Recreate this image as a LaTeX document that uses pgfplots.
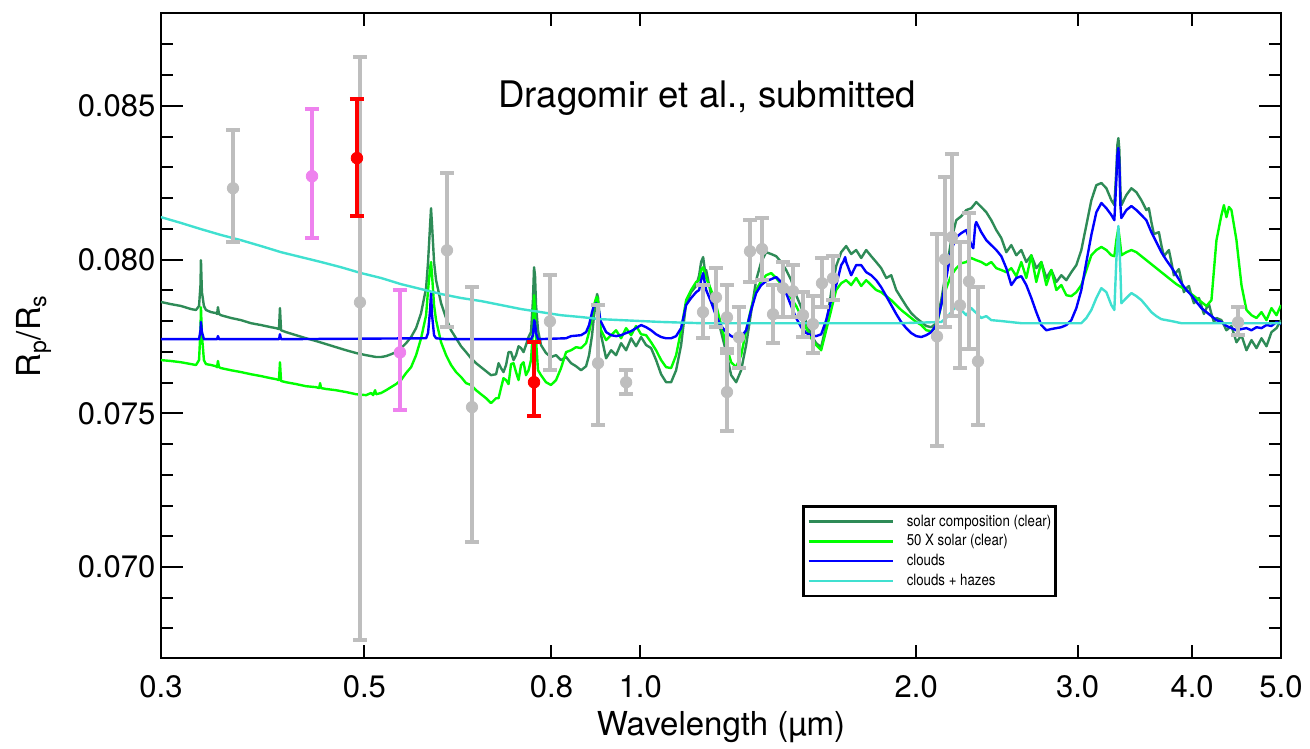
\documentclass[border=0pt]{standalone}
\usepackage{fontspec}
\setmainfont{TeX Gyre Heros}
\newfontfamily\legendfont[FakeStretch=0.85]{TeX Gyre Heros}
\usepackage{pgfplots}
\pgfplotsset{compat=1.18}

\definecolor{solargreen}{HTML}{2E8B57}
\definecolor{richgreen}{HTML}{00FF00}
\definecolor{cloudblue}{HTML}{0000FF}
\definecolor{hazecyan}{HTML}{40E0D0}
\definecolor{datagray}{HTML}{BEBEBE}
\definecolor{violetpt}{HTML}{EE82EE}
\definecolor{redpt}{HTML}{FF0000}

\begin{document}
\begin{tikzpicture}
\begin{axis}[
  scale only axis, width=560pt, height=322.5pt,
  xmode=log, xmin=0.3, xmax=5.0, ymin=0.06704, ymax=0.08802,
  xtick={0.3,0.5,0.8,1,2,3,4,5},
  xticklabels={0.3,0.5,0.8,1.0,2.0,3.0,4.0,5.0},
  minor xtick={},
  ytick={0.070,0.075,0.080,0.085},
  yticklabels={0.070,0.075,0.080,0.085},
  minor ytick={0.068,0.069,0.071,0.072,0.073,0.074,0.076,0.077,0.078,0.079,0.081,0.082,0.083,0.084,0.086,0.087},
  scaled y ticks=false,
  tick align=inside,
  major tick length=11pt, minor tick length=6pt,
  xtick style={/pgfplots/major tick length=6.5pt},
  tick style={line width=1pt, black},
  axis line style={line width=1pt},
  ticklabel style={font=\fontsize{15.5}{17}\selectfont},
  xticklabel style={yshift=-5.3pt},
  yticklabel style={xshift=0.7pt},
  every axis x label/.style={at={(axis description cs:0.5,-0.1194)}, anchor=base, font=\fontsize{16.5}{18}\selectfont},
  every axis y label/.style={at={(axis description cs:-0.1134,0.499)}, anchor=center, rotate=90, font=\fontsize{16.5}{18}\selectfont},
  xlabel={Wavelength (µm)},
  ylabel={R\textsubscript{p}/R\textsubscript{s}},
  legend style={at={(0.5723,0.2372)}, anchor=north west, draw=black, line width=1.4pt,
    inner xsep=2pt, inner ysep=3.5pt, row sep=1.8pt,
    font=\legendfont\fontsize{7.8}{10}\selectfont,
    nodes={inner sep=0pt, text height=6.3pt, text depth=1.8pt},
    /tikz/every odd column/.style={column sep=6.5pt}},
  legend cell align=left,
  legend image code/.code={\path (0pt,0pt) -- (42pt,0pt); \draw[#1, line width=1.2pt] (8pt,0pt) -- (42pt,0pt);},
]

% solar composition, clear atmosphere
\addplot[draw=solargreen, line width=1.2pt, line join=round] table {
0.3000 0.07862
0.3076 0.07855
0.3155 0.07849
0.3235 0.07839
0.3276 0.07836
0.3301 0.07849
0.3313 0.07917
0.3317 0.07998
0.3325 0.07894
0.3342 0.07849
0.3359 0.07836
0.3402 0.07829
0.3445 0.07826
0.3454 0.07823
0.3462 0.07845
0.3471 0.07823
0.3488 0.07819
0.3577 0.07810
0.3668 0.07803
0.3761 0.07793
0.3857 0.07787
0.3955 0.07780
0.4005 0.07777
0.4035 0.07774
0.4045 0.07842
0.4056 0.07770
0.4107 0.07764
0.4212 0.07754
0.4319 0.07744
0.4429 0.07735
0.4542 0.07725
0.4657 0.07715
0.4776 0.07705
0.4897 0.07696
0.5022 0.07689
0.5150 0.07683
0.5215 0.07683
0.5281 0.07686
0.5347 0.07692
0.5415 0.07699
0.5483 0.07712
0.5553 0.07728
0.5623 0.07748
0.5694 0.07777
0.5766 0.07826
0.5839 0.07907
0.5868 0.07992
0.5898 0.08112
0.5912 0.08167
0.5927 0.08112
0.5957 0.07992
0.5987 0.07933
0.6063 0.07858
0.6140 0.07810
0.6217 0.07770
0.6296 0.07744
0.6375 0.07718
0.6456 0.07699
0.6537 0.07679
0.6620 0.07663
0.6703 0.07650
0.6788 0.07637
0.6874 0.07624
0.6961 0.07627
0.7005 0.07663
0.7049 0.07647
0.7093 0.07634
0.7138 0.07657
0.7183 0.07699
0.7228 0.07699
0.7274 0.07673
0.7320 0.07689
0.7366 0.07718
0.7412 0.07712
0.7459 0.07699
0.7506 0.07722
0.7553 0.07748
0.7600 0.07764
0.7638 0.07868
0.7658 0.07975
0.7677 0.07949
0.7697 0.07852
0.7736 0.07770
0.7794 0.07722
0.7892 0.07696
0.7992 0.07683
0.8093 0.07689
0.8195 0.07673
0.8299 0.07683
0.8404 0.07663
0.8510 0.07653
0.8618 0.07640
0.8727 0.07653
0.8793 0.07689
0.8859 0.07754
0.8904 0.07819
0.8949 0.07868
0.8972 0.07888
0.8994 0.07875
0.9039 0.07787
0.9062 0.07754
0.9177 0.07679
0.9293 0.07705
0.9410 0.07689
0.9529 0.07728
0.9650 0.07705
0.9772 0.07744
0.9895 0.07718
1.0020 0.07748
1.0147 0.07722
1.0275 0.07712
1.0405 0.07673
1.0537 0.07627
1.0670 0.07601
1.0805 0.07601
1.0942 0.07640
1.1080 0.07722
1.1220 0.07858
1.1362 0.07894
1.1506 0.07914
1.1593 0.07949
1.1651 0.07992
1.1710 0.08008
1.1769 0.07959
1.1799 0.07966
1.1948 0.07884
1.2099 0.07829
1.2252 0.07764
1.2407 0.07699
1.2564 0.07624
1.2723 0.07601
1.2883 0.07640
1.3046 0.07722
1.3211 0.07829
1.3378 0.07933
1.3548 0.07992
1.3719 0.08024
1.3892 0.08018
1.4068 0.08011
1.4246 0.07992
1.4426 0.07966
1.4609 0.07933
1.4793 0.07884
1.4980 0.07845
1.5170 0.07797
1.5362 0.07754
1.5556 0.07728
1.5753 0.07715
1.5952 0.07787
1.6154 0.07894
1.6358 0.07979
1.6565 0.08024
1.6774 0.08044
1.6986 0.08018
1.7201 0.08031
1.7419 0.08005
1.7639 0.08031
1.7862 0.08011
1.8088 0.07992
1.8317 0.07972
1.8549 0.07940
1.8783 0.07949
1.9021 0.07901
1.9261 0.07875
1.9505 0.07849
1.9751 0.07826
2.0001 0.07810
2.0254 0.07797
2.0510 0.07784
2.0770 0.07780
2.1032 0.07793
2.1298 0.07868
2.1568 0.07966
2.1840 0.08063
2.2116 0.08128
2.2396 0.08141
2.2679 0.08161
2.2966 0.08167
2.3256 0.08187
2.3551 0.08171
2.3849 0.08154
2.4150 0.08128
2.4456 0.08096
2.4765 0.08070
2.5078 0.08024
2.5395 0.08047
2.5717 0.08014
2.6042 0.08031
2.6371 0.07992
2.6705 0.08014
2.7042 0.07972
2.7385 0.07992
2.7731 0.07940
2.8082 0.07966
2.8437 0.07927
2.8797 0.07949
2.9161 0.07933
2.9530 0.07959
2.9903 0.07982
3.0281 0.08031
3.0664 0.08112
3.1052 0.08193
3.1445 0.08242
3.1843 0.08249
3.2245 0.08232
3.2653 0.08193
3.2900 0.08177
3.3066 0.08291
3.3149 0.08372
3.3232 0.08395
3.3316 0.08356
3.3400 0.08226
3.3484 0.08177
3.3908 0.08210
3.4337 0.08232
3.4771 0.08219
3.5211 0.08193
3.5656 0.08161
3.5881 0.08167
3.6107 0.08122
3.6335 0.08083
3.6564 0.08086
3.6795 0.08089
3.7026 0.08047
3.7260 0.08011
3.7494 0.08021
3.7731 0.08031
3.7969 0.07992
3.8209 0.07949
3.8449 0.07959
3.8692 0.07969
3.8935 0.07933
3.9181 0.07894
3.9428 0.07907
3.9677 0.07914
3.9926 0.07884
4.0178 0.07858
4.0431 0.07868
4.0686 0.07875
4.0942 0.07849
4.1200 0.07823
4.1460 0.07842
4.1722 0.07855
4.1985 0.07823
4.2250 0.07797
4.2516 0.07810
4.3053 0.07803
4.3598 0.07770
4.4149 0.07784
4.4708 0.07731
4.5273 0.07754
4.5846 0.07705
4.6426 0.07738
4.7013 0.07712
4.7607 0.07744
4.8209 0.07718
4.8819 0.07764
4.9437 0.07777
5.0000 0.07803
};
\addlegendentry{solar composition (clear)}

% 50 x solar metallicity, clear atmosphere
\addplot[draw=richgreen, line width=1.2pt, line join=round] table {
0.3000 0.07673
0.3076 0.07670
0.3155 0.07666
0.3235 0.07660
0.3276 0.07657
0.3301 0.07673
0.3313 0.07770
0.3317 0.07845
0.3325 0.07754
0.3342 0.07673
0.3359 0.07660
0.3402 0.07657
0.3445 0.07653
0.3454 0.07650
0.3462 0.07670
0.3471 0.07650
0.3488 0.07647
0.3577 0.07640
0.3668 0.07634
0.3761 0.07627
0.3857 0.07621
0.3955 0.07614
0.4005 0.07611
0.4035 0.07608
0.4045 0.07666
0.4056 0.07605
0.4107 0.07601
0.4212 0.07595
0.4319 0.07588
0.4429 0.07585
0.4463 0.07582
0.4474 0.07598
0.4485 0.07582
0.4542 0.07579
0.4657 0.07575
0.4776 0.07569
0.4897 0.07562
0.5022 0.07559
0.5085 0.07566
0.5111 0.07559
0.5137 0.07575
0.5150 0.07562
0.5215 0.07566
0.5281 0.07575
0.5347 0.07585
0.5415 0.07595
0.5483 0.07608
0.5553 0.07631
0.5623 0.07650
0.5694 0.07689
0.5766 0.07744
0.5839 0.07819
0.5868 0.07901
0.5898 0.07972
0.5912 0.07992
0.5927 0.07949
0.5957 0.07852
0.5987 0.07803
0.6063 0.07731
0.6140 0.07689
0.6217 0.07657
0.6296 0.07634
0.6375 0.07618
0.6456 0.07598
0.6537 0.07592
0.6620 0.07575
0.6703 0.07562
0.6788 0.07549
0.6874 0.07533
0.6961 0.07549
0.7005 0.07549
0.7049 0.07582
0.7093 0.07614
0.7138 0.07608
0.7183 0.07595
0.7228 0.07660
0.7274 0.07663
0.7320 0.07634
0.7366 0.07608
0.7412 0.07657
0.7459 0.07666
0.7506 0.07624
0.7553 0.07640
0.7600 0.07673
0.7638 0.07770
0.7658 0.07884
0.7677 0.07836
0.7697 0.07738
0.7736 0.07640
0.7794 0.07624
0.7892 0.07601
0.7992 0.07592
0.8093 0.07608
0.8195 0.07647
0.8299 0.07699
0.8404 0.07705
0.8510 0.07715
0.8618 0.07712
0.8727 0.07728
0.8793 0.07764
0.8859 0.07810
0.8904 0.07852
0.8949 0.07875
0.8972 0.07878
0.8994 0.07862
0.9039 0.07787
0.9062 0.07770
0.9177 0.07738
0.9293 0.07754
0.9410 0.07770
0.9529 0.07744
0.9650 0.07777
0.9772 0.07754
0.9895 0.07784
1.0020 0.07757
1.0147 0.07754
1.0275 0.07731
1.0405 0.07705
1.0537 0.07673
1.0670 0.07650
1.0805 0.07647
1.0942 0.07689
1.1080 0.07770
1.1220 0.07868
1.1362 0.07901
1.1506 0.07927
1.1593 0.07933
1.1651 0.07966
1.1710 0.07975
1.1769 0.07949
1.1799 0.07940
1.1948 0.07901
1.2099 0.07852
1.2252 0.07787
1.2407 0.07722
1.2564 0.07666
1.2723 0.07650
1.2883 0.07689
1.3046 0.07770
1.3211 0.07842
1.3378 0.07901
1.3548 0.07930
1.3719 0.07949
1.3892 0.07956
1.4068 0.07940
1.4246 0.07920
1.4426 0.07901
1.4609 0.07875
1.4793 0.07849
1.4980 0.07816
1.5170 0.07777
1.5362 0.07744
1.5556 0.07722
1.5753 0.07705
1.5952 0.07770
1.6154 0.07836
1.6358 0.07901
1.6565 0.07923
1.6774 0.07933
1.6986 0.07917
1.7201 0.07940
1.7419 0.07914
1.7639 0.07933
1.7862 0.07917
1.8088 0.07901
1.8317 0.07894
1.8549 0.07881
1.8783 0.07868
1.9021 0.07852
1.9261 0.07836
1.9505 0.07823
1.9751 0.07810
2.0001 0.07797
2.0254 0.07787
2.0510 0.07770
2.0770 0.07767
2.1032 0.07780
2.1298 0.07852
2.1568 0.07907
2.1840 0.07949
2.2116 0.07972
2.2396 0.07988
2.2679 0.07992
2.2966 0.08005
2.3256 0.07998
2.3551 0.07992
2.3849 0.07982
2.4150 0.07992
2.4456 0.07972
2.4765 0.07966
2.5078 0.07959
2.5395 0.07972
2.5717 0.07946
2.6042 0.07992
2.6371 0.07940
2.6705 0.08014
2.7042 0.07927
2.7385 0.07992
2.7731 0.07917
2.8082 0.07966
2.8437 0.07901
2.8797 0.07917
2.9161 0.07884
2.9530 0.07881
2.9903 0.07894
3.0281 0.07917
3.0664 0.07966
3.1052 0.08014
3.1445 0.08031
3.1843 0.08041
3.2245 0.08031
3.2653 0.08014
3.2900 0.08011
3.3066 0.08063
3.3232 0.08102
3.3400 0.08047
3.3484 0.08014
3.3908 0.08024
3.4337 0.08031
3.4771 0.08024
3.5211 0.08011
3.5656 0.07998
3.6107 0.07985
3.6564 0.07972
3.7026 0.07959
3.7494 0.07946
3.7969 0.07933
3.8449 0.07920
3.8935 0.07910
3.9428 0.07901
3.9926 0.07888
4.0431 0.07875
4.0942 0.07862
4.1460 0.07849
4.1985 0.07868
4.2516 0.08063
4.3053 0.08145
4.3320 0.08177
4.3598 0.08138
4.3870 0.08171
4.4149 0.08161
4.4708 0.08063
4.5273 0.07917
4.5846 0.07836
4.6426 0.07819
4.7013 0.07810
4.7607 0.07829
4.8209 0.07803
4.8819 0.07842
4.9437 0.07819
5.0000 0.07852
};
\addlegendentry{50 X solar (clear)}

% cloudy atmosphere
\addplot[draw=cloudblue, line width=1.2pt, line join=round] table {
0.3000 0.07741
0.3301 0.07741
0.3313 0.07770
0.3317 0.07797
0.3325 0.07764
0.3342 0.07741
0.3454 0.07741
0.3462 0.07751
0.3471 0.07741
0.4035 0.07741
0.4045 0.07757
0.4056 0.07741
0.5839 0.07744
0.5868 0.07761
0.5898 0.07836
0.5912 0.07891
0.5927 0.07819
0.5957 0.07754
0.5987 0.07744
0.6140 0.07741
0.7600 0.07741
0.7638 0.07754
0.7658 0.07803
0.7677 0.07797
0.7697 0.07761
0.7736 0.07741
0.8299 0.07744
0.8404 0.07751
0.8618 0.07754
0.8727 0.07764
0.8793 0.07787
0.8859 0.07829
0.8904 0.07852
0.8949 0.07858
0.8994 0.07852
0.9039 0.07810
0.9062 0.07797
0.9177 0.07764
0.9293 0.07754
0.9410 0.07751
0.9529 0.07754
0.9650 0.07761
0.9772 0.07767
0.9895 0.07777
1.0020 0.07787
1.0147 0.07780
1.0275 0.07770
1.0405 0.07757
1.0537 0.07748
1.0670 0.07744
1.0805 0.07744
1.0942 0.07751
1.1080 0.07777
1.1220 0.07852
1.1362 0.07875
1.1506 0.07894
1.1593 0.07901
1.1651 0.07933
1.1710 0.07956
1.1769 0.07917
1.1799 0.07901
1.1948 0.07862
1.2099 0.07816
1.2252 0.07784
1.2407 0.07764
1.2564 0.07751
1.2723 0.07744
1.2883 0.07748
1.3046 0.07770
1.3211 0.07836
1.3378 0.07891
1.3548 0.07917
1.3719 0.07930
1.3892 0.07936
1.4068 0.07943
1.4246 0.07927
1.4426 0.07891
1.4609 0.07849
1.4793 0.07810
1.4980 0.07780
1.5170 0.07761
1.5362 0.07754
1.5556 0.07751
1.5753 0.07757
1.5952 0.07803
1.6154 0.07868
1.6358 0.07917
1.6565 0.07982
1.6649 0.07992
1.6732 0.08008
1.6774 0.07992
1.6986 0.07949
1.7201 0.07982
1.7419 0.07982
1.7639 0.07959
1.7862 0.07949
1.8088 0.07933
1.8317 0.07910
1.8549 0.07881
1.8783 0.07852
1.9021 0.07823
1.9261 0.07797
1.9505 0.07777
1.9751 0.07761
2.0001 0.07751
2.0254 0.07748
2.0510 0.07754
2.0770 0.07764
2.1032 0.07787
2.1298 0.07852
2.1568 0.07940
2.1840 0.08031
2.2116 0.08073
2.2396 0.08086
2.2679 0.08096
2.2966 0.08047
2.3081 0.08037
2.3198 0.08112
2.3256 0.08122
2.3551 0.08089
2.3849 0.08063
2.4150 0.08047
2.4456 0.08031
2.4765 0.08011
2.5078 0.07972
2.5395 0.07917
2.5717 0.07940
2.6042 0.07946
2.6371 0.07917
2.6705 0.07875
2.7042 0.07829
2.7385 0.07787
2.7731 0.07770
2.8082 0.07774
2.8437 0.07777
2.8797 0.07780
2.9161 0.07787
2.9530 0.07803
2.9903 0.07842
3.0281 0.07901
3.0664 0.07992
3.1052 0.08080
3.1445 0.08154
3.1843 0.08184
3.2245 0.08167
3.2653 0.08145
3.2900 0.08128
3.3066 0.08258
3.3149 0.08340
3.3232 0.08363
3.3316 0.08307
3.3400 0.08177
3.3484 0.08135
3.3908 0.08161
3.4337 0.08174
3.4771 0.08161
3.5211 0.08145
3.5656 0.08128
3.6107 0.08089
3.6564 0.08057
3.7026 0.08024
3.7494 0.07998
3.7969 0.07975
3.8449 0.07949
3.8935 0.07923
3.9428 0.07901
3.9926 0.07884
4.0431 0.07862
4.0942 0.07842
4.1460 0.07829
4.1985 0.07816
4.2516 0.07803
4.3053 0.07797
4.3598 0.07784
4.4149 0.07777
4.4708 0.07770
4.5273 0.07774
4.5846 0.07777
4.6426 0.07770
4.7013 0.07780
4.7607 0.07777
4.8209 0.07787
4.8819 0.07784
4.9437 0.07797
5.0000 0.07790
};
\addlegendentry{clouds}

% clouds plus hazes
\addplot[draw=hazecyan, line width=1.2pt, line join=round] table {
0.3000 0.08138
0.3155 0.08119
0.3317 0.08099
0.3488 0.08080
0.3668 0.08063
0.3857 0.08044
0.4056 0.08024
0.4265 0.08008
0.4485 0.07992
0.4716 0.07975
0.4959 0.07956
0.5215 0.07940
0.5483 0.07920
0.5766 0.07904
0.6063 0.07888
0.6375 0.07875
0.6703 0.07865
0.7049 0.07852
0.7412 0.07839
0.7794 0.07829
0.8195 0.07819
0.8618 0.07813
0.9062 0.07806
0.9529 0.07803
1.0020 0.07800
1.0537 0.07797
1.1651 0.07793
1.4980 0.07793
1.9261 0.07793
2.1298 0.07797
2.1568 0.07810
2.1840 0.07829
2.2116 0.07849
2.2396 0.07836
2.2679 0.07819
2.2966 0.07842
2.3256 0.07826
2.3551 0.07810
2.3849 0.07816
2.4150 0.07803
2.4765 0.07800
2.6042 0.07793
3.0281 0.07793
3.0664 0.07810
3.1052 0.07836
3.1445 0.07875
3.1843 0.07907
3.2245 0.07894
3.2653 0.07852
3.2900 0.07836
3.3066 0.07998
3.3232 0.08109
3.3400 0.07966
3.3484 0.07858
3.3908 0.07875
3.4337 0.07891
3.4771 0.07881
3.5211 0.07868
3.5656 0.07849
3.6107 0.07829
3.6564 0.07816
3.7026 0.07806
3.7969 0.07800
3.8935 0.07793
5.0000 0.07793
};
\addlegendentry{clouds + hazes}

% transit depth measurements
\addplot[forget plot, only marks, mark=*, mark size=2.85pt, color=datagray,
  error bars/.cd, y dir=both, y explicit,
  error bar style={line width=2pt, datagray},
  error mark options={rotate=90, mark size=3.5pt, line width=2pt, datagray}]
  table[x=x, y=y, y error plus=ep, y error minus=em] {
x y ep em
0.3595 0.08232 0.00189 0.00176
0.4945 0.07861 0.00797 0.01100
0.6154 0.08030 0.00251 0.00250
0.6553 0.07520 0.00390 0.00440
0.7971 0.07799 0.00150 0.00159
0.8993 0.07663 0.00188 0.00202
0.9651 0.07601 0.00039 0.00039
1.1706 0.07829 0.00087 0.00085
1.2094 0.07877 0.00095 0.00097
1.2434 0.07812 0.00104 0.00104
1.2434 0.07569 0.00126 0.00128
1.2814 0.07747 0.00098 0.00101
1.3173 0.08027 0.00101 0.00101
1.3577 0.08034 0.00100 0.00101
1.3957 0.07822 0.00094 0.00094
1.4312 0.07907 0.00084 0.00095
1.4676 0.07897 0.00084 0.00085
1.5049 0.07819 0.00075 0.00072
1.5431 0.07790 0.00091 0.00095
1.5784 0.07923 0.00081 0.00078
1.6226 0.07939 0.00072 0.00071
2.1072 0.07750 0.00332 0.00358
2.1500 0.08001 0.00267 0.00221
2.1881 0.08073 0.00270 0.00257
2.2325 0.07851 0.00205 0.00205
2.2835 0.07929 0.00222 0.00221
2.3358 0.07669 0.00241 0.00208
4.4886 0.07796 0.00049 0.00042
};

\addplot[forget plot, only marks, mark=*, mark size=2.9pt, color=violetpt,
  error bars/.cd, y dir=both, y explicit,
  error bar style={line width=2pt, violetpt},
  error mark options={rotate=90, mark size=3.5pt, line width=2pt, violetpt}]
  table[x=x, y=y, y error plus=ep, y error minus=em] {
x y ep em
0.4384 0.08271 0.00218 0.00202
0.5468 0.07698 0.00202 0.00188
};

\addplot[forget plot, only marks, mark=*, mark size=2.9pt, color=redpt,
  error bars/.cd, y dir=both, y explicit,
  error bar style={line width=2pt, redpt},
  error mark options={rotate=90, mark size=3.5pt, line width=2pt, redpt}]
  table[x=x, y=y, y error plus=ep, y error minus=em] {
x y ep em
0.4908 0.08330 0.00191 0.00189
0.7658 0.07601 0.00130 0.00111
};

\node[anchor=base, font=\fontsize{18.3}{20}\selectfont] at (axis cs:1.183,0.08495) {Dragomir et al., submitted};
\end{axis}
\path (-80.5pt,-43pt) rectangle (574.5pt,329pt);
\end{tikzpicture}
\end{document}
